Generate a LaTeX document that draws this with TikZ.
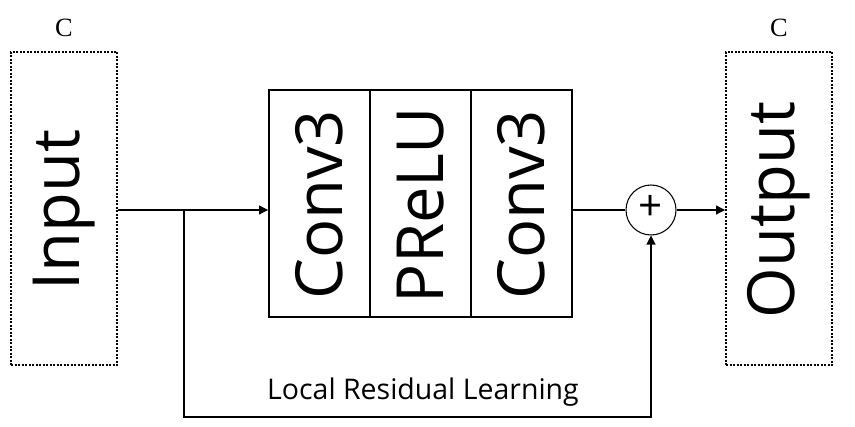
\documentclass[tikz,border=0pt]{standalone}
\usepackage{fontspec}
\setmainfont{Liberation Serif}
\newfontfamily\blockfont{Open Sans}
\usetikzlibrary{arrows.meta}

\tikzset{
  iobox/.style={draw, dash pattern=on 0.4mm off 0.3mm, line width=1.1pt, minimum width=2.12cm, minimum height=6.26cm, inner sep=0pt},
  layer/.style={draw, line width=1.1pt, minimum width=2.02cm, minimum height=4.54cm, inner sep=0pt},
  bigtext/.style={font=\blockfont\fontsize{37}{40}\selectfont, rotate=90},
  arr/.style={-{Triangle[length=1.8mm,width=1.8mm]}, line width=0.6pt},
  wire/.style={line width=0.6pt}
}

\begin{document}
\begin{tikzpicture}
\useasboundingbox (0,0) rectangle (17.1,8.52);

%Input and output tensors
\node[iobox] (in) at (1.28,4.35){};
\node[bigtext] at (1.28,4.32){Input};
\node[font=\fontsize{15}{17}\selectfont] (cin) at (1.28,7.96){C};
\node[iobox] (out) at (15.58,4.35){};
\node[bigtext] at (15.58,4.32){Output};
\node[font=\fontsize{15}{17}\selectfont] (cout) at (15.58,7.96){C};

%Residual block layers
\node[layer] (conva) at (6.39,4.45){};
\node[bigtext] at (6.39,4.42){Conv3};
\node[layer] (prelu) at (8.41,4.45){};
\node[bigtext] at (8.41,4.42){PReLU};
\node[layer] (convb) at (10.43,4.45){};
\node[bigtext] at (10.43,4.42){Conv3};

%Element-wise sum
\node[draw, circle, line width=0.6pt, minimum size=1cm, inner sep=0pt] (sum) at (13.02,4.32){};
\node[font=\blockfont\fontsize{24}{24}\selectfont] at (13.02,4.36){+};

%Main path
\coordinate (split) at (3.68,4.32);
\draw[wire] (in.east |- split) -- (split);
\draw[arr] (split) -- (split -| conva.west);
\draw[wire] (sum.west -| convb.east) -- (sum.west);
\draw[arr] (sum.east) -- (sum.east -| out.west);

%Skip connection
\coordinate (low) at (3.68,0.18);
\draw[arr] (split) -- (low) -- (low -| sum.south) -- (sum.south);
\node[font=\blockfont\fontsize{16.2}{18}\selectfont] (lrl) at (8.46,0.68){Local Residual Learning};

\end{tikzpicture}
\end{document}
